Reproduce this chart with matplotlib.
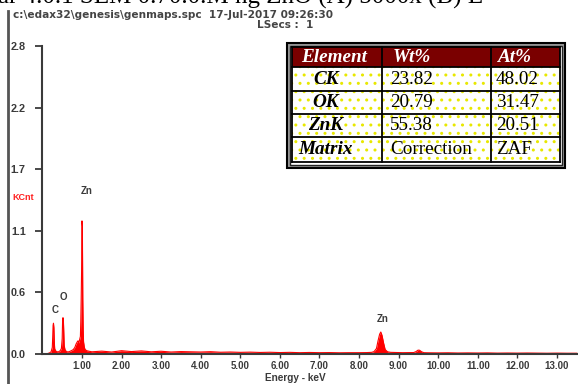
import matplotlib
matplotlib.use("Agg")
import matplotlib.pyplot as plt
from matplotlib.patches import Rectangle
import numpy as np

# ---------------- data ----------------
# low-energy region: C K, O K, Zn L peaks
low_energy = [0.10, 0.18, 0.22, 0.25, 0.26, 0.27, 0.28, 0.29, 0.30, 0.31, 0.33, 0.37,
              0.41, 0.45, 0.48, 0.50, 0.51, 0.52, 0.53, 0.54, 0.55, 0.57, 0.61, 0.67,
              0.73, 0.78, 0.82, 0.85, 0.88, 0.90, 0.92, 0.94, 0.96, 0.97, 0.98, 0.99,
              1.00, 1.01, 1.02, 1.03, 1.04, 1.06, 1.08, 1.12, 1.18]
low_counts = [0.00, 0.01, 0.02, 0.06, 0.15, 0.26, 0.28, 0.24, 0.12, 0.05, 0.03, 0.02,
              0.02, 0.03, 0.05, 0.14, 0.30, 0.33, 0.31, 0.20, 0.08, 0.04, 0.02, 0.02,
              0.03, 0.04, 0.06, 0.09, 0.11, 0.12, 0.10, 0.13, 0.16, 0.30, 0.50, 0.75,
              1.21, 1.16, 0.50, 0.22, 0.11, 0.06, 0.04, 0.03, 0.025]

# continuum background
bg_energy = [1.25, 1.50, 1.75, 2.00, 2.25, 2.50, 2.75, 3.00, 3.25, 3.50, 3.75, 4.00,
             4.25, 4.50, 4.75, 5.00, 5.25, 5.50, 5.75, 6.00, 6.25, 6.50, 6.75, 7.00,
             7.25, 7.50, 7.75, 8.00, 8.20, 8.90, 9.10, 9.30, 9.75, 10.00, 10.25, 10.50,
             10.75, 11.00, 11.25, 11.50, 11.75, 12.00, 12.25, 12.50, 12.75, 13.00, 13.25, 13.50]
bg_counts = [0.020, 0.026, 0.018, 0.030, 0.022, 0.028, 0.020, 0.025, 0.018, 0.022, 0.020, 0.018,
             0.021, 0.016, 0.018, 0.015, 0.017, 0.014, 0.016, 0.013, 0.015, 0.012, 0.014, 0.012,
             0.013, 0.011, 0.012, 0.012, 0.013, 0.014, 0.012, 0.013, 0.011, 0.010, 0.011, 0.009,
             0.010, 0.009, 0.010, 0.008, 0.009, 0.008, 0.009, 0.008, 0.007, 0.008, 0.007, 0.007]

# Zn K alpha / K beta
znk_energy = [8.32, 8.38, 8.44, 8.48, 8.52, 8.55, 8.58, 8.62, 8.66, 8.72, 8.80,
              9.38, 9.44, 9.49, 9.53, 9.58, 9.64]
znk_counts = [0.015, 0.022, 0.05, 0.12, 0.18, 0.20, 0.17, 0.10, 0.04, 0.02, 0.015,
              0.013, 0.022, 0.035, 0.034, 0.02, 0.012]

peak_labels = ["C", "O", "Zn", "Zn"]
peak_label_energy = [0.31, 0.54, 1.12, 8.60]
peak_label_height = [0.40, 0.52, 1.48, 0.32]

ytick_values = [0.0, 0.56, 1.12, 1.68, 2.24, 2.80]
ytick_labels = ["0.0", "0.6", "1.1", "1.7", "2.2", "2.8"]
xtick_values = [1, 2, 3, 4, 5, 6, 7, 8, 9, 10, 11, 12, 13]

table_header = ["Element", "Wt%", "At%"]
table_elements = ["CK", "OK", "ZnK", "Matrix"]
table_wt = ["23.82", "20.79", "55.38", "Correction"]
table_at = ["48.02", "31.47", "20.51", "ZAF"]

header_file = "c:\\edax32\\genesis\\genmaps.spc  17-Jul-2017 09:26:30"
header_lsecs = "LSecs :  1"
cut_caption = "ar 4.0.1 SEM 0.70.0.M ng ZnO (A) 5000x (B) E"

# --------------- figure ---------------
W, H = 578, 384
fig = plt.figure(figsize=(W / 100, H / 100), dpi=100)
fig.patch.set_facecolor("white")

sans = ["Liberation Sans", "DejaVu Sans"]
serif = ["Liberation Serif", "DejaVu Serif"]
gray = "#3a3a3a"

x0, xscale = 42.4, 39.58
ax_left = x0 / W
ax_bottom = (H - 354) / H
ax_top = (H - 46) / H
ax = fig.add_axes([ax_left, ax_bottom, 1 - ax_left, ax_top - ax_bottom])
ax.set_xlim(0, (W - x0) / xscale)
ax.set_ylim(0, 2.8)

e = np.array(low_energy + bg_energy + znk_energy)
c = np.array(low_counts + bg_counts + znk_counts)
order = np.argsort(e)
e, c = e[order], c[order]
ax.fill_between(e, 0, c, color="#ff0000", lw=0)
ax.plot(e, c, color="#ff0000", lw=0.8)

for s in ["top", "right"]:
    ax.spines[s].set_visible(False)
for s in ["left", "bottom"]:
    ax.spines[s].set_color(gray)
    ax.spines[s].set_linewidth(1.5)

ax.set_yticks(ytick_values)
ax.set_yticklabels(ytick_labels, fontfamily=sans, fontweight="bold", fontsize=7.8, color=gray)
ax.tick_params(axis="y", direction="out", length=5, width=1.3, color=gray, pad=7)
ax.set_xticks(xtick_values)
ax.set_xticklabels(["%.2f" % v for v in xtick_values], fontfamily=sans, fontweight="bold",
                   fontsize=7, color=gray)
ax.tick_params(axis="x", direction="out", length=3, width=1.0, color=gray, pad=2)

for lab, xe, yh in zip(peak_labels, peak_label_energy, peak_label_height):
    ax.text(xe, yh, lab, ha="center", va="center", fontfamily=sans, fontweight="bold",
            fontsize=7, color=gray)

fig.text(295 / W, 1 - 378 / H, "Energy - keV", ha="center", va="center",
         fontfamily=sans, fontweight="bold", fontsize=7.2, color=gray)
fig.text(12 / W, 1 - 197 / H, "KCnt", ha="left", va="center",
         fontfamily=sans, fontweight="bold", fontsize=6.5, color="#ff2020")

# header texts
fig.text(13 / W, 1 - 15.5 / H, header_file, ha="left", va="center",
         fontfamily="DejaVu Sans", fontweight="bold", fontsize=7.6, color="#444444")
fig.text(313 / W, 1 - 25.5 / H, header_lsecs, ha="right", va="center",
         fontfamily="DejaVu Sans", fontweight="bold", fontsize=7.6, color="#444444")
fig.text(-2 / W, 1 - 3.5 / H, cut_caption, ha="left", va="baseline",
         fontfamily=serif, fontsize=18, color="black")

# --------------- overlay in pixel coords ---------------
ov = fig.add_axes([0, 0, 1, 1], zorder=5)
ov.set_xlim(0, W)
ov.set_ylim(H, 0)
ov.axis("off")
ov.patch.set_alpha(0)

# left border line
ov.plot([8, 8], [11, H], color="#555555", lw=2)

# table frame
ov.add_patch(Rectangle((287, 43), 278, 125, facecolor="#9a9a9a", edgecolor="black", lw=1.5))
ov.add_patch(Rectangle((290, 45.5), 272, 119.5, facecolor="white", edgecolor="#222222", lw=1))

cols = [292, 382, 491, 560]
rows = [47, 67, 91, 114, 137, 162]
# header background
ov.add_patch(Rectangle((cols[0], rows[0]), cols[-1] - cols[0], rows[1] - rows[0],
                       facecolor="#7a0000", edgecolor="none"))
# dotted yellow body
ov.add_patch(Rectangle((cols[0], rows[1]), cols[-1] - cols[0], rows[-1] - rows[1],
                       facecolor="white", edgecolor="#e8e800", lw=0, hatch=".."))
# grid lines
for y in rows:
    ov.plot([cols[0], cols[-1]], [y, y], color="black", lw=1.3)
for x in cols:
    ov.plot([x, x], [rows[0], rows[-1]], color="black", lw=1.3)

tfs = 13.8
hy = (rows[0] + rows[1]) / 2
ov.text(334, hy, table_header[0], ha="center", va="center", fontfamily=serif,
        fontweight="bold", fontstyle="italic", fontsize=tfs, color="white")
ov.text(393, hy, table_header[1], ha="left", va="center", fontfamily=serif,
        fontweight="bold", fontstyle="italic", fontsize=tfs, color="white")
ov.text(498, hy, table_header[2], ha="left", va="center", fontfamily=serif,
        fontweight="bold", fontstyle="italic", fontsize=tfs, color="white")
for i in range(4):
    cy = (rows[i + 1] + rows[i + 2]) / 2
    ov.text(326, cy, table_elements[i], ha="center", va="center", fontfamily=serif,
            fontweight="bold", fontstyle="italic", fontsize=tfs, color="black")
    ov.text(390, cy, table_wt[i], ha="left", va="center", fontfamily=serif,
            fontsize=tfs, color="black")
    ov.text(496, cy, table_at[i], ha="left", va="center", fontfamily=serif,
            fontsize=tfs, color="black")

fig.savefig("out.png", dpi=100)
